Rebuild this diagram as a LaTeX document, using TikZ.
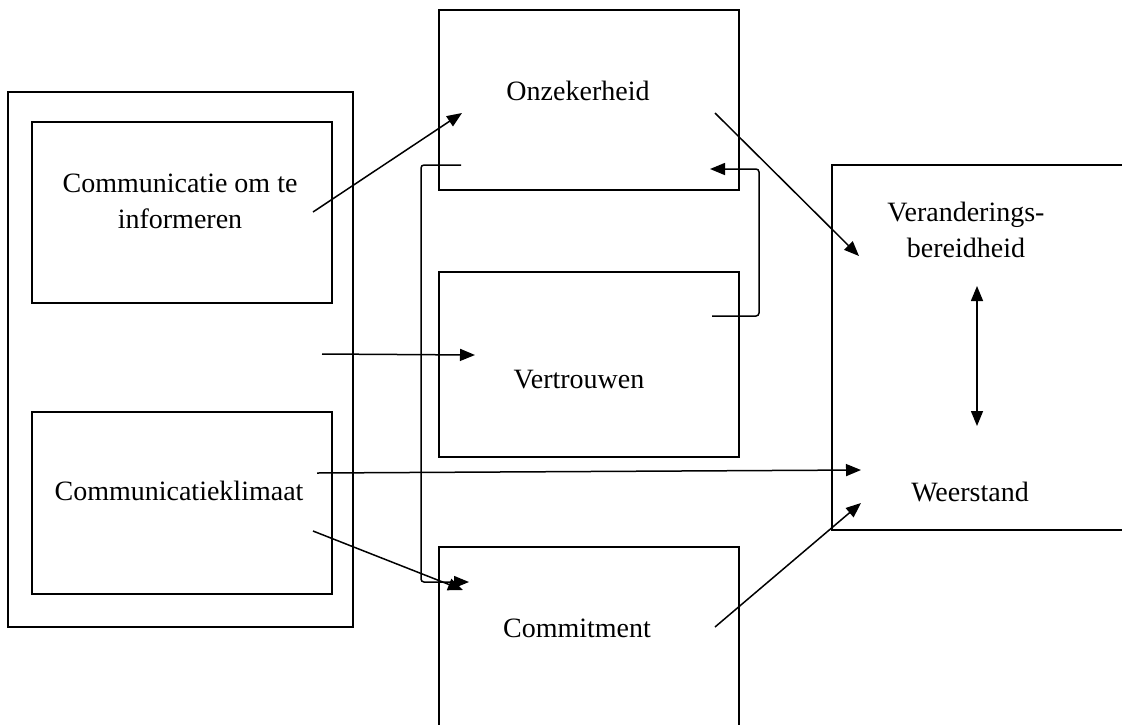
\documentclass[tikz,border=0pt]{standalone}
\usepackage{fontspec}
\setmainfont{Liberation Serif}
\usetikzlibrary{arrows.meta}
\begin{document}
\begin{tikzpicture}[x=1pt,y=-1pt,
  box/.style={draw, line width=1.6pt, inner sep=0pt},
  lbl/.style={font=\fontsize{28}{36}\selectfont, align=center, inner sep=0pt},
  tip/.style={-{Triangle[length=15pt,width=12pt]}},
  arr/.style={line width=1.5pt, tip},
  darr/.style={line width=1.5pt, {Triangle[length=15pt,width=12pt]}-{Triangle[length=15pt,width=12pt]}},
  elb/.style={line width=1.5pt, rounded corners=3pt, tip}]
\clip (0,0) rectangle (1122,724);
\fill[white] (0,0) rectangle (1122,724);
% boxes
\node[box, minimum width=345pt, minimum height=535pt] (outer) at (180.5,359.5) {};
\node[box, minimum width=300pt, minimum height=181pt] (inf) at (182,212.5) {};
\node[box, minimum width=300pt, minimum height=182pt] (klim) at (182,503) {};
\node[box, minimum width=300pt, minimum height=180pt] (onz) at (589,100) {};
\node[box, minimum width=300pt, minimum height=185pt] (vert) at (589,364.5) {};
\node[box, minimum width=300pt, minimum height=200pt] (comm) at (589,647) {};
\node[box, minimum width=320pt, minimum height=365pt] (right) at (992,347.5) {};
% labels
\node[lbl] (tinf) at (180,201) {Communicatie om te\\informeren};
\node[lbl] (tklim) at (179,491) {Communicatieklimaat};
\node[lbl] (tonz) at (578,91) {Onzekerheid};
\node[lbl] (tvert) at (579,380) {Vertrouwen};
\node[lbl] (tcomm) at (577,628) {Commitment};
\node[lbl] (tver) at (966,230) {Veranderings-\\bereidheid};
\node[lbl] (tweer) at (970,492) {Weerstand};
% connector end points
\coordinate (a1s) at (313,212); \coordinate (a1e) at (462,113);
\coordinate (a2s) at (322,354); \coordinate (a2e) at (475,355);
\coordinate (a3s) at (317,473); \coordinate (a3e) at (861,470);
\coordinate (a4s) at (313,531); \coordinate (a4e) at (463,590);
\coordinate (a5s) at (715,113); \coordinate (a5e) at (859,256);
\coordinate (a6s) at (715,627); \coordinate (a6e) at (861,503);
\coordinate (dTop) at (977,286); \coordinate (dBot) at (977,426);
\coordinate (lS) at (461,165); \coordinate (lE) at (469,582);
\coordinate (rS) at (712,316); \coordinate (rE) at (710,169);
% connectors
\draw[arr] (a1s) -- (a1e);
\draw[arr] (a2s) -- (a2e);
\draw[arr] (a3s) -- (a3e);
\draw[arr] (a4s) -- (a4e);
\draw[arr] (a5s) -- (a5e);
\draw[arr] (a6s) -- (a6e);
\draw[darr] (dTop) -- (dBot);
\draw[elb] (lS) -| (421,582) -- (lE);
\draw[elb] (rS) -| (759,169) -- (rE);
\end{tikzpicture}
\end{document}
